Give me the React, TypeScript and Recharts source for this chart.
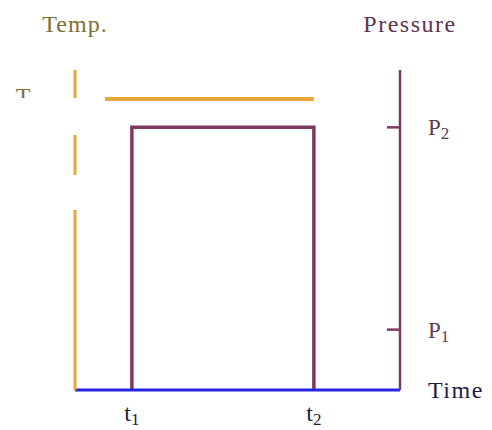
import { Line, LineChart, XAxis, YAxis } from 'recharts';

// pulse diagram: temperature held at T, pressure stepped up to P2 between t1 and t2
const timeTicks = [17.5, 73.5];
const timeLabels = ['1', '2'];
const pressureTicks = [1, 4.35];
const pressureLabels = ['1', '2'];
const tempTicks = [100];

const tempTime = [9.2, 73.5];
const tempValues = [100, 100];
const pressureTime = [17.5, 17.5, 73.5, 73.5];
const pressureValues = [0, 4.35, 4.35, 0];

const tempData = tempTime.map((time, i) => ({ time, temp: tempValues[i] }));
const pressureData = pressureTime.map((time, i) => ({ time, pressure: pressureValues[i] }));

const ORANGE = '#e6a63a';
const PURPLE = '#7d3a62';
const BLUE = '#2424e0';
const FONT = '"Liberation Serif", "DejaVu Serif", serif';

const TimeTick = (props: any) => {
  const { x, y, payload } = props;
  const i = timeTicks.indexOf(payload.value);
  return (
    <text x={x} y={y + 31} textAnchor="middle" fontFamily={FONT} fontSize={24} fill="#1e1e36">
      t<tspan fontSize={17} dy={4}>{timeLabels[i]}</tspan>
    </text>
  );
};

const PressureTick = (props: any) => {
  const { x, y, payload } = props;
  const i = pressureTicks.indexOf(payload.value);
  return (
    <g>
      <line x1={x - 13} x2={x} y1={y} y2={y} stroke={PURPLE} strokeWidth={2.5} />
      <text x={x + 28} y={y + 8} fontFamily={FONT} fontSize={23} fill="#5e3e56">
        P<tspan fontSize={17} dy={4}>{pressureLabels[i]}</tspan>
      </text>
    </g>
  );
};

const TempTick = (props: any) => {
  const { x, y } = props;
  return (
    <g>
      <text x={x - 52} y={y + 5} textAnchor="middle" fontFamily={FONT} fontSize={24} fill="#7e7034">T</text>
      <rect x={x - 62} y={y - 1} width={58} height={36} fill="#fff" />
    </g>
  );
};

export default function App() {
  return (
    <div style={{ position: 'absolute', left: 0, top: 0, background: '#fff' }}>
      <LineChart width={492} height={430} margin={{ top: 70, right: 0, bottom: 0, left: 0 }}>
        <XAxis
          type="number"
          dataKey="time"
          domain={[0, 100]}
          ticks={timeTicks}
          tickSize={0}
          tickMargin={0}
          tickLine={false}
          tick={<TimeTick />}
          height={40}
          axisLine={{ stroke: BLUE, strokeWidth: 3 }}
          label={{
            content: ({ viewBox }: any) => (
              <text x={viewBox.x + viewBox.width + 28} y={viewBox.y + 8} fontFamily={FONT} fontSize={24} letterSpacing={1.5} fill="#1c1c4a">
                Time
              </text>
            ),
          }}
        />
        <YAxis
          yAxisId="temp"
          orientation="left"
          width={75}
          domain={[0, 110]}
          ticks={tempTicks}
          tickSize={0}
          tickMargin={0}
          tickLine={false}
          tick={<TempTick />}
          axisLine={{ stroke: ORANGE, strokeWidth: 3, strokeDasharray: '28 37 40 35 400' }}
          label={{
            content: ({ viewBox }: any) => (
              <text x={viewBox.x + viewBox.width} y={viewBox.y - 38} textAnchor="middle" fontFamily={FONT} fontSize={24} letterSpacing={1} fill="#7e7034">
                Temp.
              </text>
            ),
          }}
        />
        <YAxis
          yAxisId="pressure"
          orientation="right"
          width={92}
          domain={[0, 5.3]}
          ticks={pressureTicks}
          tickSize={0}
          tickMargin={0}
          tickLine={false}
          tick={<PressureTick />}
          axisLine={{ stroke: PURPLE, strokeWidth: 2.5 }}
          label={{
            content: ({ viewBox }: any) => (
              <text x={viewBox.x + 10} y={viewBox.y - 38} textAnchor="middle" fontFamily={FONT} fontSize={24} letterSpacing={1.5} fill="#5e3450">
                Pressure
              </text>
            ),
          }}
        />
        <Line
          yAxisId="temp"
          data={tempData}
          dataKey="temp"
          type="linear"
          stroke={ORANGE}
          strokeWidth={4}
          dot={false}
          isAnimationActive={false}
        />
        <Line
          yAxisId="pressure"
          data={pressureData}
          dataKey="pressure"
          type="linear"
          stroke={PURPLE}
          strokeWidth={3.5}
          dot={false}
          isAnimationActive={false}
        />
      </LineChart>
    </div>
  );
}
